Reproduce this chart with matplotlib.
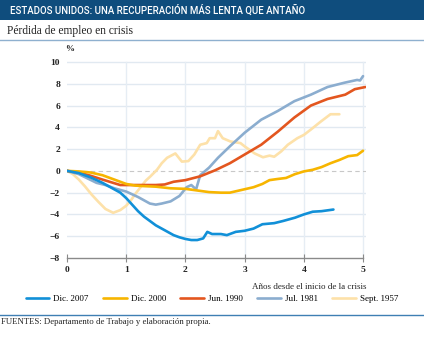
import matplotlib
matplotlib.use("Agg")
import matplotlib.pyplot as plt
from matplotlib.patches import Rectangle
from matplotlib.lines import Line2D

# Pérdida de empleo (%) frente a años desde el inicio de cada crisis
x_2007 = [0, 0.2, 0.4, 0.6, 0.8, 0.9, 1.0, 1.1, 1.2, 1.3, 1.4, 1.5, 1.6, 1.7, 1.8, 1.9, 2.0, 2.1, 2.2, 2.3,
          2.37, 2.45, 2.6, 2.7, 2.85, 3.0, 3.15, 3.3, 3.5, 3.65, 3.85, 4.0, 4.15, 4.3, 4.5]
y_2007 = [0, -0.2, -0.6, -1.1, -1.7, -2.0, -2.5, -3.1, -3.7, -4.2, -4.6, -5.0, -5.3, -5.6, -5.9, -6.1, -6.25,
          -6.35, -6.35, -6.2, -5.6, -5.8, -5.8, -5.9, -5.6, -5.5, -5.3, -4.9, -4.8, -4.6, -4.3, -4.0, -3.75,
          -3.7, -3.55]

x_2000 = [0, 0.2, 0.4, 0.6, 0.8, 1.0, 1.15, 1.3, 1.5, 1.75, 2.0, 2.2, 2.4, 2.6, 2.75, 2.95, 3.15, 3.3, 3.42,
          3.55, 3.7, 3.85, 4.0, 4.15, 4.3, 4.45, 4.6, 4.75, 4.9, 5.0]
y_2000 = [0, -0.05, -0.15, -0.4, -0.8, -1.2, -1.35, -1.4, -1.45, -1.6, -1.65, -1.8, -1.95, -2.0, -2.0, -1.75,
          -1.5, -1.2, -0.85, -0.75, -0.65, -0.3, -0.05, 0.1, 0.35, 0.7, 1.0, 1.35, 1.45, 1.85]

x_1990 = [0, 0.2, 0.4, 0.6, 0.75, 0.9, 1.1, 1.3, 1.5, 1.65, 1.8, 2.0, 2.25, 2.5, 2.75, 3.0, 3.28, 3.56, 3.84,
          4.12, 4.4, 4.7, 4.86, 5.04]
y_1990 = [0, -0.15, -0.45, -0.8, -1.05, -1.3, -1.3, -1.3, -1.3, -1.25, -1.0, -0.85, -0.5, 0.05, 0.7, 1.5,
          2.4, 3.6, 4.9, 6.0, 6.6, 7.0, 7.5, 7.7]

x_1981 = [0, 0.2, 0.35, 0.5, 0.65, 0.8, 1.0, 1.2, 1.4, 1.5, 1.6, 1.75, 1.9, 2.02, 2.1, 2.18, 2.25, 2.4, 2.55,
          2.76, 3.0, 3.28, 3.56, 3.84, 4.12, 4.4, 4.69, 4.9, 4.95, 5.0]
y_1981 = [0, -0.3, -0.7, -1.1, -1.3, -1.6, -1.9, -2.4, -3.0, -3.1, -3.0, -2.8, -2.3, -1.5, -1.3, -1.7, -0.4,
          0.3, 1.2, 2.3, 3.5, 4.7, 5.5, 6.4, 7.0, 7.7, 8.1, 8.35, 8.3, 8.7]

x_1957 = [0, 0.1, 0.2, 0.3, 0.42, 0.54, 0.65, 0.78, 0.9, 1.0, 1.08, 1.17, 1.25, 1.33, 1.41, 1.52, 1.6, 1.69,
          1.83, 1.94, 2.05, 2.15, 2.25, 2.36, 2.41, 2.5, 2.55, 2.63, 2.76, 2.93, 3.0, 3.17, 3.31, 3.42, 3.5,
          3.62, 3.73, 3.89, 4.0, 4.12, 4.28, 4.45, 4.6]
y_1957 = [0, -0.3, -0.8, -1.4, -2.2, -2.9, -3.5, -3.85, -3.6, -3.2, -2.7, -2.0, -1.45, -0.9, -0.5, 0.1, 0.7,
          1.2, 1.6, 0.85, 0.9, 1.5, 2.4, 2.55, 3.0, 3.0, 3.65, 3.0, 2.7, 2.55, 2.25, 1.6, 1.25, 1.4, 1.3, 1.8,
          2.4, 3.0, 3.3, 3.8, 4.5, 5.2, 5.2]

labels = ["Dic. 2007", "Dic. 2000", "Jun. 1990", "Jul. 1981", "Sept. 1957"]
colors = ["#1190d8", "#f7b500", "#e3561f", "#8badcf", "#fde1a9"]
yticks = [-8, -6, -4, -2, 0, 2, 4, 6, 8, 10]
xticks = [0, 1, 2, 3, 4, 5]

W, H = 424, 338
SERIF = ["Liberation Serif", "DejaVu Serif"]

fig = plt.figure(figsize=(W / 100, H / 100), dpi=100)
fig.patch.set_facecolor("white")

# cabecera
fig.patches.append(Rectangle((0, 1 - 20 / H), 1, 20 / H, transform=fig.transFigure,
                             facecolor="#0f4d7d", edgecolor="none"))
fig.text(10 / W, 1 - 10.5 / H, "ESTADOS UNIDOS: UNA RECUPERACIÓN MÁS LENTA QUE ANTAÑO",
         color="white", fontsize=6.9, fontweight="medium", va="center", ha="left",
         family=["Roboto", "DejaVu Sans"])
fig.text(7 / W, 1 - 31 / H, "Pérdida de empleo en crisis", fontsize=8.3, family=SERIF,
         va="center", ha="left", color="#222222")
fig.add_artist(Line2D([0, 1], [1 - 40 / H, 1 - 40 / H], transform=fig.transFigure,
                      color="#8fb0cf", lw=1.0))
fig.add_artist(Line2D([0, 1], [1 - 315 / H, 1 - 315 / H], transform=fig.transFigure,
                      color="#3f7fb3", lw=1.0))
fig.text(1 / W, 1 - 322 / H, "FUENTES: Departamento de Trabajo y elaboración propia.",
         fontsize=6.3, family=SERIF, va="center", ha="left", color="#222222")

# área del gráfico
left, right = 67, 366
top, bottom = 58.7, 258
ax = fig.add_axes([left / W, 1 - bottom / H, (right - left) / W, (bottom - top) / H])
ax.set_xlim(0, 5.05)
ax.set_ylim(-8, 10.3)

for y in yticks:
    if y in (-8, 0):
        continue
    ax.axhline(y, color="#e1e9f1", lw=1.0, zorder=0)
for x in xticks[1:]:
    ax.axvline(x, ymin=0, ymax=18 / 18.3, color="#e6edf4", lw=1.0, zorder=0)
ax.axhline(0, color="#c8c8c8", lw=0.8, ls=(0, (4, 3)), zorder=0)

series = [(x_1957, y_1957), (x_1981, y_1981), (x_1990, y_1990), (x_2000, y_2000), (x_2007, y_2007)]
series_colors = colors[::-1]
series_labels = labels[::-1]
handles = {}
for (xs, ys), c, lab in zip(series, series_colors, series_labels):
    ln, = ax.plot(xs, ys, color=c, lw=1.9, solid_capstyle="round", label=lab)
    handles[lab] = ln

for s in ("top", "right", "left"):
    ax.spines[s].set_visible(False)
ax.spines["bottom"].set_color("#8a8a8a")
ax.spines["bottom"].set_linewidth(1.0)
ax.spines["bottom"].set_bounds(0, 5)

ax.set_xticks(xticks)
ax.set_yticks(yticks)
ax.set_yticklabels([str(v).replace("-", "\u2212") for v in yticks])
ax.tick_params(axis="x", direction="inout", length=6, width=0.8, color="#8a8a8a", pad=3,
               labelsize=6.8)
ax.tick_params(axis="y", length=0, pad=5, labelsize=6.8)
for t in ax.get_xticklabels() + ax.get_yticklabels():
    t.set_family(SERIF)
    t.set_fontweight("bold")
    t.set_color("#222222")

fig.text(70 / W, 1 - 49 / H, "%", fontsize=6.5, family=SERIF, fontweight="bold",
         ha="center", va="center", color="#222222")
fig.text(367 / W, 1 - 287 / H, "Años desde el inicio de la crisis", fontsize=6.5,
         family=SERIF, ha="right", va="center", color="#222222")

fig.legend([handles[l] for l in labels], labels, loc="center", ncol=5,
           bbox_to_anchor=(212 / W, 1 - 299 / H), frameon=False, handlelength=2.6,
           handletextpad=0.45, columnspacing=1.6, prop={"family": SERIF, "size": 6.5})

fig.savefig("out.png", dpi=100, facecolor="white")
